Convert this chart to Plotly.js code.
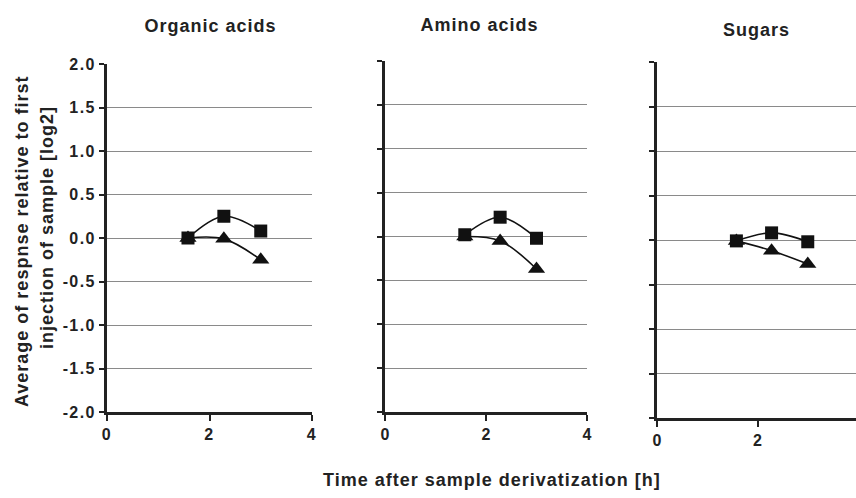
<!DOCTYPE html>
<html>
<head>
<meta charset="utf-8">
<script src="https://cdn.plot.ly/plotly-3.0.1.min.js"></script>
<style>
html,body{margin:0;padding:0;background:#fff;}
#chart{width:856px;height:498px;}
#chart .annotation-text{letter-spacing:1px;}
#chart .xtick text, #chart .ytick text{letter-spacing:1.4px;}
</style>
</head>
<body>
<div id="chart"></div>
<script>
// ---- data ----
const panelTitles = ["Organic acids", "Amino acids", "Sugars"];
const timeHours = [1.58, 2.28, 3.0];
const organicSquare = [0.0, 0.25, 0.08];
const organicTriangle = [0.0, -0.01, -0.25];
const aminoSquare = [0.02, 0.22, -0.02];
const aminoTriangle = [0.0, -0.05, -0.37];
const sugarSquare = [-0.01, 0.08, -0.02];
const sugarTriangle = [-0.01, -0.12, -0.27];
const yTickVals = [-2.0, -1.5, -1.0, -0.5, 0.0, 0.5, 1.0, 1.5, 2.0];
const yTickText = ["-2.0", "-1.5", "-1.0", "-0.5", "0.0", "0.5", "1.0", "1.5", "2.0"];
const xTickVals = [0, 2, 4];
const xTickText = ["0", "2", "4"];
const yTitleLines = ["Average of respnse relative to first", "injection of sample [log2]"];
const xTitle = "Time after sample derivatization [h]";

const FONT = "Liberation Sans, Arial, Helvetica, sans-serif";
const W = 856, H = 498;

const seriesSets = [[organicSquare, organicTriangle], [aminoSquare, aminoTriangle], [sugarSquare, sugarTriangle]];
const traces = [];
seriesSets.forEach((pair, i) => {
  const xa = i === 0 ? "x" : "x" + (i + 1);
  const ya = i === 0 ? "y" : "y" + (i + 1);
  traces.push({
    x: timeHours, y: pair[1], xaxis: xa, yaxis: ya, type: "scatter", mode: "lines+markers",
    line: {color: "#111", width: 1.6, shape: "spline", smoothing: 1},
    marker: {symbol: "triangle-up", size: 15, color: "#111"}, showlegend: false, cliponaxis: false
  });
  traces.push({
    x: timeHours, y: pair[0], xaxis: xa, yaxis: ya, type: "scatter", mode: "lines+markers",
    line: {color: "#111", width: 1.6, shape: "spline", smoothing: 1},
    marker: {symbol: "square", size: 13, color: "#111"}, showlegend: false, cliponaxis: false
  });
});

// pixel geometry of each panel: [left, right, top, bottom]
const boxes = [[107, 312, 64, 412], [385, 587, 61, 412], [657, 856, 62, 418]];
const xRanges = [[0, 4], [0, 4], [0, 3.96]];
const titlePos = [[210, 26], [480, 25], [756, 30]];

const layout = {
  width: W, height: H,
  margin: {l: 0, r: 0, t: 0, b: 0},
  paper_bgcolor: "#fff", plot_bgcolor: "#fff",
  font: {family: FONT, color: "#222"},
  annotations: [],
  showlegend: false
};

const tickFont = {family: FONT, size: 16, weight: "bold", color: "#222"};
const titleFont = {family: FONT, size: 18, weight: "bold", color: "#222"};

boxes.forEach((b, i) => {
  const sfx = i === 0 ? "" : String(i + 1);
  layout["xaxis" + sfx] = {
    domain: [b[0] / W, b[1] / W], range: xRanges[i], anchor: "y" + sfx,
    tickvals: xTickVals, ticktext: xTickText.map(t => "<b>" + t + "</b>"),
    showgrid: false, zeroline: false,
    showline: true, linecolor: "#222", linewidth: 3,
    ticks: "outside", ticklen: 6, tickwidth: 2, tickcolor: "#222",
    tickfont: tickFont
  };
  layout["yaxis" + sfx] = {
    domain: [1 - b[3] / H, 1 - b[2] / H], range: [-2, 2], anchor: "x" + sfx,
    tickvals: yTickVals, ticktext: yTickText.map(t => "<b>" + t + "</b>"), showticklabels: i === 0,
    showgrid: true, gridcolor: "#8a8a8a", gridwidth: 1, zeroline: false,
    showline: true, linecolor: "#222", linewidth: 3,
    ticks: "outside", ticklen: 5, tickwidth: 2, tickcolor: "#222",
    tickfont: tickFont
  };
  layout.annotations.push({
    text: "<b>" + panelTitles[i] + "</b>", xref: "paper", yref: "paper",
    x: titlePos[i][0] / W, y: 1 - titlePos[i][1] / H,
    xanchor: "center", yanchor: "middle", showarrow: false,
    font: titleFont
  });
});

// y title: two lines, positioned separately
[[22, 242], [47, 228]].forEach((p, k) => {
  layout.annotations.push({
    text: "<b>" + yTitleLines[k] + "</b>", xref: "paper", yref: "paper",
    x: p[0] / W, y: 1 - p[1] / H,
    xanchor: "center", yanchor: "middle", textangle: -90, showarrow: false,
    font: titleFont
  });
});
layout.annotations.push({
  text: "<b>" + xTitle + "</b>", xref: "paper", yref: "paper", x: 492 / W, y: 1 - 480 / H,
  xanchor: "center", yanchor: "middle", showarrow: false,
  font: titleFont
});

Plotly.newPlot("chart", traces, layout, {staticPlot: true, displayModeBar: false});
</script>
</body>
</html>
